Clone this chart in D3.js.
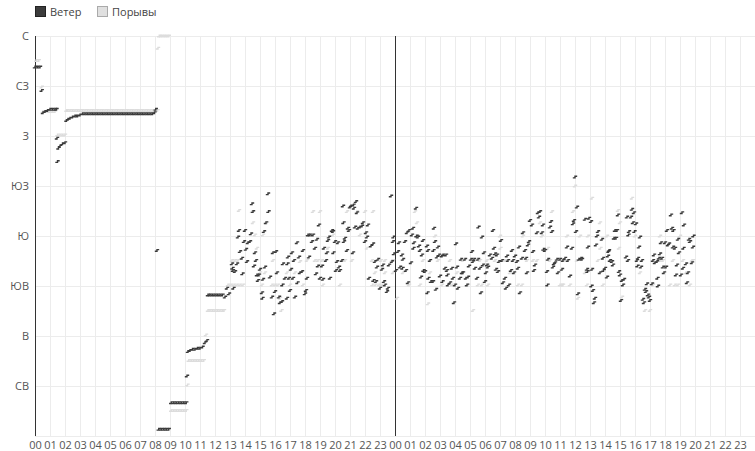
<!DOCTYPE html>
<html><head><meta charset="utf-8">
<script src="https://cdn.jsdelivr.net/npm/d3@7"></script>
<style>body{margin:0;background:#fff}svg{display:block;font-family:"Open Sans",sans-serif}</style>
</head><body><svg id="c" width="755" height="451"></svg>
<script>
// Compass labels (degrees) and hour labels
const dirLabels = ["С","СЗ","З","ЮЗ","Ю","ЮВ","В","СВ"];
const dirValues = [360,315,270,225,180,135,90,45];
const hourLabels = ["00","01","02","03","04","05","06","07","08","09","10","11","12","13","14","15","16","17","18","19","20","21","22","23",
                    "00","01","02","03","04","05","06","07","08","09","10","11","12","13","14","15","16","17","18","19","20","21","22","23"];
const legendNames = ["Ветер","Порывы"];
// [minutes since start, direction in degrees]
const windData = [
[0,332],[10,332],[20,332],[27,311],[32,291],[40,292],[50,293],[60,294],[70,294],[80,294],[86,294],[88,268],[90,247],[94,259],[100,261],[110,263],[120,264],
[126,284],[132,285],[140,286],[150,287],[160,288],[170,288],[180,289],[190,290],[200,290],[210,290],[220,290],[230,290],[240,290],[250,290],[260,290],[270,290],
[280,290],[290,290],[300,290],[310,290],[320,290],[330,290],[340,290],[350,290],[360,290],[370,290],[380,290],[390,290],[400,290],[410,290],[420,290],[430,290],
[440,290],[450,290],[460,290],[470,290],[478,291],[483,294],[488,167],[495,6],[505,6],[515,6],[525,6],[535,6],[545,30],[555,30],[565,30],[575,30],[585,30],[595,30],[605,30],
[608,54],[612,76],[620,77],[630,78],[640,78],[650,79],[660,79],[670,80],[680,84],[688,86],[692,127],[700,127],[710,127],[720,127],[730,127],[740,127],[750,127],[760,125],
[768,133],[776,128],[788,155],[790,151],[792,149],[800,148],[794,133],[808,155],[812,179],[816,185],[820,166],[828,160],[830,146],[836,175],[840,185],[844,168],[848,157],
[852,174],[860,175],[864,182],[868,209],[872,202],[876,153],[880,165],[884,158],[888,145],[892,140],[896,145],[900,150],[908,129],[910,124],[912,141],[916,184],[920,152],
[924,192],[932,218],[934,202],[940,143],[948,125],[952,165],[956,110],[960,130],[964,166],[968,147],[976,125],[980,120],[988,121],[990,136],[992,155],[1000,142],[1008,124],
[1010,155],[1012,161],[1016,142],[1020,131],[1024,150],[1028,165],[1032,142],[1036,158],[1040,125],[1048,174],[1050,138],[1056,161],[1060,147],[1068,148],[1072,167],
[1080,128],[1084,131],[1088,142],[1092,181],[1096,161],[1100,181],[1108,175],[1112,181],[1120,169],[1124,146],[1128,177],[1132,153],[1136,190],[1140,142],[1148,153],
[1152,141],[1156,169],[1164,158],[1168,165],[1172,176],[1176,179],[1180,142],[1188,185],[1192,184],[1194,165],[1200,175],[1204,149],[1208,157],[1212,174],[1216,152],
[1220,149],[1228,158],[1232,207],[1234,192],[1236,175],[1240,178],[1248,167],[1252,187],[1256,185],[1260,206],[1264,207],[1272,165],[1274,208],[1276,205],[1280,188],
[1284,211],[1288,201],[1292,187],[1300,188],[1308,189],[1312,192],[1320,175],[1324,183],[1328,179],[1332,190],[1336,142],[1344,171],[1352,173],[1354,140],[1360,157],
[1364,139],[1368,152],[1372,159],[1380,133],[1388,150],[1392,154],[1396,139],[1400,136],[1408,130],[1412,133],[1416,154],[1424,216],[1428,157],[1432,175],[1434,179],
[1436,164],[1444,149],[1452,166],[1456,174],[1460,152],[1468,163],[1470,151],[1472,159],[1480,175],[1484,149],[1488,183],[1492,138],[1496,185],[1504,156],[1508,181],
[1512,187],[1514,169],[1516,174],[1524,205],[1526,180],[1532,179],[1536,171],[1540,167],[1544,143],[1548,163],[1552,176],[1554,149],[1560,148],[1568,171],[1570,129],
[1572,167],[1574,142],[1580,158],[1584,139],[1592,139],[1594,167],[1596,187],[1600,175],[1604,132],[1608,161],[1612,170],[1616,163],[1620,144],[1628,162],[1630,139],
[1632,163],[1640,151],[1644,163],[1648,149],[1650,145],[1652,136],[1660,138],[1668,151],[1672,142],[1676,120],[1680,136],[1684,173],[1688,152],[1692,133],[1700,142],
[1704,159],[1708,147],[1712,147],[1720,159],[1724,142],[1728,136],[1732,143],[1736,153],[1744,159],[1748,166],[1752,157],[1756,159],[1760,151],[1768,142],[1772,159],
[1774,188],[1780,151],[1784,129],[1788,179],[1792,154],[1796,165],[1800,139],[1804,147],[1808,154],[1812,152],[1820,163],[1828,160],[1832,185],[1836,169],[1840,164],
[1844,150],[1848,163],[1852,148],[1856,157],[1864,176],[1868,158],[1872,138],[1880,142],[1884,133],[1888,162],[1892,158],[1896,136],[1904,149],[1908,167],[1912,158],
[1916,147],[1920,162],[1928,157],[1932,151],[1936,170],[1940,129],[1948,160],[1952,183],[1960,167],[1964,160],[1968,147],[1972,172],[1976,175],[1980,194],[1988,190],
[1992,166],[1996,149],[2000,154],[2008,183],[2012,201],[2016,197],[2020,202],[2028,183],[2032,190],[2034,168],[2040,167],[2048,148],[2050,136],[2052,159],[2060,188],
[2064,193],[2068,184],[2072,152],[2076,155],[2080,156],[2088,159],[2092,147],[2100,159],[2108,150],[2112,158],[2120,160],[2128,170],[2132,158],[2140,144],[2148,169],
[2152,191],[2156,194],[2160,233],[2164,184],[2168,206],[2172,128],[2176,159],[2184,160],[2188,159],[2200,195],[2208,150],[2210,148],[2212,170],[2216,196],[2224,193],
[2226,135],[2228,150],[2232,131],[2236,120],[2240,124],[2244,172],[2248,180],[2252,184],[2260,147],[2268,177],[2272,160],[2274,149],[2280,151],[2288,143],[2292,162],
[2294,166],[2296,167],[2300,158],[2308,157],[2312,154],[2316,178],[2320,185],[2324,178],[2328,185],[2332,199],[2336,148],[2340,145],[2344,122],[2348,140],[2352,136],
[2356,141],[2364,161],[2368,197],[2372,158],[2374,181],[2376,184],[2384,197],[2388,204],[2392,192],[2396,201],[2398,184],[2404,191],[2408,158],[2410,153],[2412,160],
[2416,170],[2420,179],[2424,152],[2428,158],[2432,123],[2436,120],[2440,132],[2444,130],[2448,137],[2452,127],[2456,125],[2460,122],[2468,137],[2472,158],[2476,163],
[2480,156],[2488,157],[2490,142],[2492,135],[2496,160],[2500,164],[2504,174],[2508,160],[2512,152],[2516,147],[2520,174],[2524,152],[2528,185],[2532,172],[2536,173],
[2544,199],[2548,187],[2552,170],[2554,185],[2560,169],[2564,145],[2568,154],[2572,177],[2576,165],[2584,145],[2588,201],[2592,151],[2594,169],[2596,190],[2604,155],
[2608,138],[2612,147],[2616,177],[2620,175],[2628,156],[2632,170],[2634,180]
];
const gustData = [
[5,338],[15,338],[27,314],[32,292],[40,292],[50,292],[60,292],[70,292],[80,292],[90,271],[100,271],[110,271],[120,271],[126,293],[130,293],[140,293],[150,293],
[160,293],[170,293],[180,293],[190,293],[200,293],[210,293],[220,293],[230,293],[240,293],[250,293],[260,293],[270,293],[280,293],[290,293],[300,293],[310,293],
[320,293],[330,293],[340,293],[350,293],[360,293],[370,293],[380,293],[390,293],[400,293],[410,293],[420,293],[430,293],[440,293],[450,293],[460,293],[470,293],
[480,293],[490,293],[492,349],[497,360],[505,360],[515,360],[525,360],[535,360],[545,23],[555,23],[565,23],[575,23],[585,23],[595,23],[605,23],[610,46],
[615,68],[625,68],[635,68],[645,68],[655,68],[665,68],[675,68],[684,91],[692,113],[700,113],[710,113],[720,113],[730,113],[740,113],[750,113],[756,113],
[772,136],[784,136],[796,136],[808,136],[820,136],[832,136],[788,158],[800,158],[812,158],[816,203],[868,202],[872,192],[880,181],[928,192],[912,181],[888,169],
[900,147],[908,136],[920,147],[952,158],[948,136],[960,136],[972,136],[988,136],[986,113],[980,124],[1008,147],[1020,136],[1040,147],[1060,157],[1072,136],
[1088,158],[1112,202],[1140,202],[1120,158],[1132,158],[1148,158],[1152,136],[1172,169],[1192,181],[1220,136],[1240,158],[1248,202],[1268,158],[1288,202],
[1300,181],[1320,202],[1328,169],[1352,202],[1348,158],[1360,147],[1350,136],[1362,136],[1376,136],[1388,136],[1400,158],[1428,158],[1448,124],
[1384,158],[1400,147],[1432,158],[1432,147],[1472,147],[1496,136],[1520,202],[1528,192],[1530,180],[1552,158],[1540,136],[1572,119],[1580,147],[1600,180],
[1612,158],[1628,136],[1660,158],[1668,136],[1688,147],[1712,158],[1732,136],[1752,113],[1772,136],[1780,158],[1788,136],[1808,158],[1812,136],[1840,158],
[1860,180],[1862,169],[1880,158],[1900,147],[1932,136],[1948,136],[1952,180],[1968,158],[1992,158],[2008,158],[2020,192],[2028,180],[2052,169],[2068,202],
[2060,158],[2108,136],[2120,158],[2128,180],[2152,202],[2160,225],[2168,158],[2172,124],[2100,136],[2112,136],[2140,136],[2180,180],[2212,180],[2228,214],
[2200,147],[2208,136],[2260,192],[2262,169],[2252,158],[2272,136],[2288,180],[2300,158],[2332,203],[2340,192],[2336,169],[2352,136],[2348,125],[2388,214],
[2400,180],[2420,147],[2440,113],[2460,113],[2472,136],[2500,180],[2502,158],[2512,158],[2540,136],[2552,158],[2560,136],[2572,136],[2580,180],[2592,158],
[2604,147],[2628,158],[2620,136],[2632,158]
];

const W = 755, H = 451;
const svg = d3.select("#c");
const x = d3.scaleLinear().domain([0, 2880]).range([35, 755]);
const y = d3.scaleLinear().domain([0, 360]).range([436, 36]);
const hours = d3.range(0, 48).map(i => i * 60);

// grid
const g = svg.append("g");
g.selectAll("line.v").data(hours.concat([2880])).join("line")
  .attr("x1", d => x(d) + 0.5).attr("x2", d => x(d) + 0.5)
  .attr("y1", y(360)).attr("y2", y(0)).attr("stroke", "#ececec");
g.selectAll("line.h").data(dirValues.concat([0])).join("line")
  .attr("x1", x(0)).attr("x2", W).attr("y1", d => y(d) + 0.5).attr("y2", d => y(d) + 0.5)
  .attr("stroke", "#ececec");

// axes labels
const yAxis = d3.axisLeft(y).tickValues(dirValues).tickFormat((d, i) => dirLabels[i]).tickSize(0).tickPadding(6);
const ya = svg.append("g").attr("transform", `translate(${x(0)},0)`).call(yAxis);
ya.select(".domain").remove();
ya.selectAll("text").attr("font-size", 11).attr("fill", "#555").attr("font-family", '"Open Sans",sans-serif');

const xAxis = d3.axisBottom(x).tickValues(hours).tickFormat((d, i) => hourLabels[i]).tickSize(0).tickPadding(5);
const xa = svg.append("g").attr("transform", `translate(0,${y(0)})`).call(xAxis);
xa.select(".domain").remove();
xa.selectAll("text").attr("font-size", 11).attr("fill", "#555").attr("font-family", '"Open Sans",sans-serif');

// day boundary lines
svg.selectAll("line.day").data([0, 1440]).join("line")
  .attr("x1", d => x(d) + 0.5).attr("x2", d => x(d) + 0.5)
  .attr("y1", y(360)).attr("y2", y(0)).attr("stroke", "#333").attr("stroke-width", 1);

// markers
const mk = d => {
  const px = x(d[0]), py = y(d[1]);
  return `M${px - 2.2},${py + 0.8}H${px}V${py - 0.8}H${px + 2.2}`;
};
svg.append("g").selectAll("path").data(gustData).join("path")
  .attr("d", mk).attr("fill", "none").attr("stroke", "#dcdcdc").attr("stroke-width", 1.4);
svg.append("g").selectAll("path").data(windData).join("path")
  .attr("d", mk).attr("fill", "none").attr("stroke", "#3a3a3a").attr("stroke-width", 1.4);

// legend
const legColors = [["#3c3c3c", "#222"], ["#e0e0e0", "#aaa"]];
const legX = [35, 97];
const lg = svg.append("g");
legendNames.forEach((n, i) => {
  lg.append("rect").attr("x", legX[i] + 0.5).attr("y", 6.5).attr("width", 10).attr("height", 10)
    .attr("fill", legColors[i][0]).attr("stroke", legColors[i][1]);
  lg.append("text").attr("x", legX[i] + 15).attr("y", 15.5).attr("font-size", 11).attr("fill", "#444").text(n);
});
</script></body></html>
